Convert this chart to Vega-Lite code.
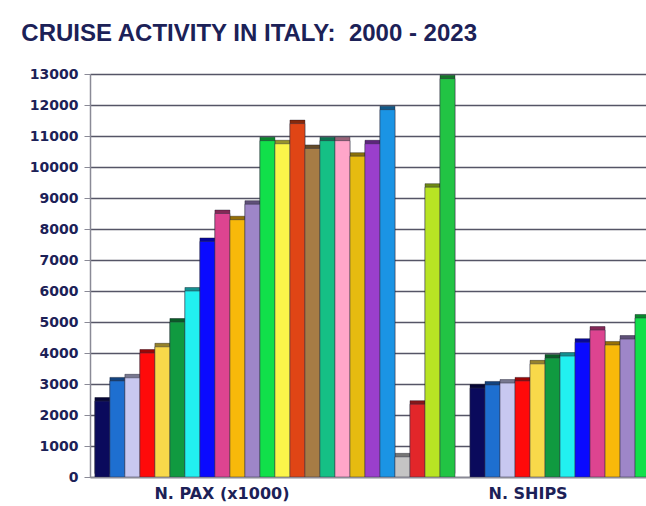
{
  "$schema": "https://vega.github.io/schema/vega-lite/v6.json",
  "width": 556,
  "height": 403,
  "autosize": {"type": "none"},
  "padding": {"left": 90, "top": 74, "right": 0, "bottom": 29},
  "background": "white",
  "config": {"view": {"stroke": null}},
  "title": {
    "text": "CRUISE ACTIVITY IN ITALY:\u00a0 2000 - 2023",
    "anchor": "start",
    "dx": -8,
    "offset": 21,
    "font": "Liberation Sans",
    "fontSize": 24,
    "fontWeight": "bold",
    "color": "#1c2157"
  },
  "data": {
    "values": [
      {"group": "N. PAX (x1000)", "year": "2000", "value": 2450},
      {"group": "N. PAX (x1000)", "year": "2001", "value": 3100},
      {"group": "N. PAX (x1000)", "year": "2002", "value": 3200},
      {"group": "N. PAX (x1000)", "year": "2003", "value": 4000},
      {"group": "N. PAX (x1000)", "year": "2004", "value": 4200},
      {"group": "N. PAX (x1000)", "year": "2005", "value": 5000},
      {"group": "N. PAX (x1000)", "year": "2006", "value": 6000},
      {"group": "N. PAX (x1000)", "year": "2007", "value": 7600},
      {"group": "N. PAX (x1000)", "year": "2008", "value": 8500},
      {"group": "N. PAX (x1000)", "year": "2009", "value": 8300},
      {"group": "N. PAX (x1000)", "year": "2010", "value": 8800},
      {"group": "N. PAX (x1000)", "year": "2011", "value": 10850},
      {"group": "N. PAX (x1000)", "year": "2012", "value": 10750},
      {"group": "N. PAX (x1000)", "year": "2013", "value": 11400},
      {"group": "N. PAX (x1000)", "year": "2014", "value": 10600},
      {"group": "N. PAX (x1000)", "year": "2015", "value": 10850},
      {"group": "N. PAX (x1000)", "year": "2016", "value": 10850},
      {"group": "N. PAX (x1000)", "year": "2017", "value": 10350},
      {"group": "N. PAX (x1000)", "year": "2018", "value": 10750},
      {"group": "N. PAX (x1000)", "year": "2019", "value": 11850},
      {"group": "N. PAX (x1000)", "year": "2020", "value": 650},
      {"group": "N. PAX (x1000)", "year": "2021", "value": 2350},
      {"group": "N. PAX (x1000)", "year": "2022", "value": 9350},
      {"group": "N. PAX (x1000)", "year": "2023", "value": 12850},
      {"group": "N. SHIPS", "year": "2000", "value": 2870},
      {"group": "N. SHIPS", "year": "2001", "value": 2970},
      {"group": "N. SHIPS", "year": "2002", "value": 3030},
      {"group": "N. SHIPS", "year": "2003", "value": 3100},
      {"group": "N. SHIPS", "year": "2004", "value": 3650},
      {"group": "N. SHIPS", "year": "2005", "value": 3840},
      {"group": "N. SHIPS", "year": "2006", "value": 3900},
      {"group": "N. SHIPS", "year": "2007", "value": 4350},
      {"group": "N. SHIPS", "year": "2008", "value": 4740},
      {"group": "N. SHIPS", "year": "2009", "value": 4260},
      {"group": "N. SHIPS", "year": "2010", "value": 4450},
      {"group": "N. SHIPS", "year": "2011", "value": 5130}
    ]
  },
  "encoding": {
    "x": {
      "field": "group",
      "type": "nominal",
      "sort": null,
      "scale": {"range": [0, 745], "paddingInner": 0.04, "paddingOuter": 0.013},
      "axis": {
        "title": null,
        "labelAngle": 0,
        "ticks": false,
        "domain": true,
        "domainColor": "#8a8a96",
        "domainWidth": 1.5,
        "labelFont": "DejaVu Sans",
        "labelFontWeight": "bold",
        "labelFontSize": 16,
        "labelColor": "#1c2157",
        "labelPadding": 8,
        "labelOffset": {"condition": {"test": "datum.value === 'N. SHIPS'", "value": -122}, "value": -53}
      }
    },
    "xOffset": {
      "field": "year",
      "type": "nominal",
      "scale": {"paddingInner": 0, "paddingOuter": 0}
    },
    "y": {
      "field": "value",
      "type": "quantitative",
      "scale": {"domain": [0, 13000], "nice": false},
      "axis": {
        "title": null,
        "values": [0, 1000, 2000, 3000, 4000, 5000, 6000, 7000, 8000, 9000, 10000, 11000, 12000, 13000],
        "format": "d",
        "labelFont": "DejaVu Sans",
        "labelFontWeight": "bold",
        "labelFontSize": 14,
        "labelColor": "#1c2157",
        "labelPadding": 6,
        "tickSize": 6,
        "tickColor": "#8a8a96",
        "domainColor": "#8a8a96",
        "domainWidth": 1.5,
        "grid": true,
        "gridColor": "#555566",
        "gridWidth": 1.3
      }
    },
    "color": {
      "field": "year",
      "type": "nominal",
      "legend": null,
      "scale": {
        "domain": ["2000","2001","2002","2003","2004","2005","2006","2007","2008","2009","2010","2011","2012","2013","2014","2015","2016","2017","2018","2019","2020","2021","2022","2023"],
        "range": ["#0a0a5c","#1e6fd0","#c8c8f0","#ff0a0a","#f8d94a","#109a40","#22f0f0","#0a0aff","#dd4490","#f8b90a","#9e86c8","#11e04a","#fbf54a","#e04515","#a67c45","#15c085","#ffa6c9","#e6bb10","#9a3fcc","#1b94e4","#c4c4c4","#e2262a","#b8e424","#22c444"]
      }
    }
  },
  "layer": [
    {"mark": {"type": "bar", "xOffset": 3.5, "yOffset": -3.5, "clip": true, "stroke": "#222233", "strokeWidth": 0.4}},
    {"mark": {"type": "bar", "xOffset": 3.5, "yOffset": -3.5, "clip": true, "opacity": 0.4}, "encoding": {"color": {"value": "black"}}},
    {"mark": {"type": "bar", "clip": true, "stroke": "#333344", "strokeWidth": 0.5}}
  ]
}
